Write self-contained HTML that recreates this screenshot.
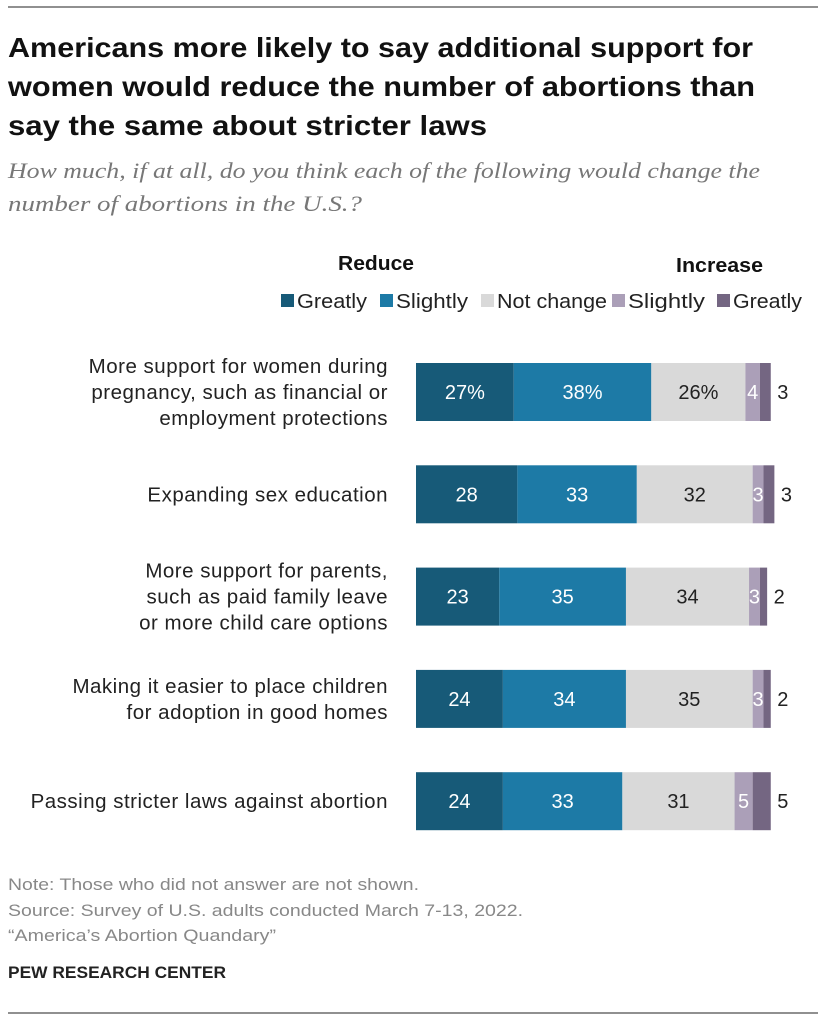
<!DOCTYPE html>
<html><head><meta charset="utf-8"><style>
body{margin:0;background:#fff;width:833px;height:1023px;overflow:hidden}
svg{display:block}
</style></head><body>
<svg width="833" height="1023" font-family="Liberation Sans, sans-serif">
<line x1="8" y1="7" x2="818" y2="7" stroke="#222" stroke-width="1"/>
<g font-size="28" font-weight="bold" fill="#111" lengthAdjust="spacingAndGlyphs">
<text x="8" y="57" textLength="745" lengthAdjust="spacingAndGlyphs">Americans more likely to say additional support for</text>
<text x="8" y="96" textLength="747" lengthAdjust="spacingAndGlyphs">women would reduce the number of abortions than</text>
<text x="8" y="135" textLength="479" lengthAdjust="spacingAndGlyphs">say the same about stricter laws</text>
</g>
<g font-family="Liberation Serif, serif" font-style="italic" font-size="22.5" fill="#777">
<text x="8" y="178" textLength="752" lengthAdjust="spacingAndGlyphs">How much, if at all, do you think each of the following would change the</text>
<text x="8" y="211" textLength="354" lengthAdjust="spacingAndGlyphs">number of abortions in the U.S.?</text>
</g>
<text x="338" y="270" font-size="20" font-weight="bold" fill="#111" textLength="76" lengthAdjust="spacingAndGlyphs">Reduce</text>
<text x="676" y="272" font-size="20" font-weight="bold" fill="#111" textLength="87" lengthAdjust="spacingAndGlyphs">Increase</text>
<g id="legend" font-size="20" fill="#222"></g>
<g id="rows"></g>
<g font-size="16.5" fill="#888">
<text x="8" y="890" textLength="411" lengthAdjust="spacingAndGlyphs">Note: Those who did not answer are not shown.</text>
<text x="8" y="916" textLength="515" lengthAdjust="spacingAndGlyphs">Source: Survey of U.S. adults conducted March 7-13, 2022.</text>
<text x="8" y="941" textLength="268" lengthAdjust="spacingAndGlyphs">“America’s Abortion Quandary”</text>
</g>
<text x="8" y="978" font-size="16.5" font-weight="bold" fill="#222" textLength="218" lengthAdjust="spacingAndGlyphs">PEW RESEARCH CENTER</text>
<line x1="8" y1="1013" x2="818" y2="1013" stroke="#222" stroke-width="1"/>
</svg>
<script>
const categories=[
 ["More support for women during","pregnancy, such as financial or","employment protections"],
 ["Expanding sex education"],
 ["More support for parents,","such as paid family leave","or more child care options"],
 ["Making it easier to place children","for adoption in good homes"],
 ["Passing stricter laws against abortion"]];
const reduceGreatly=[27,28,23,24,24];
const reduceSlightly=[38,33,35,34,33];
const notChange=[26,32,34,35,31];
const increaseSlightly=[4,3,3,3,5];
const increaseGreatly=[3,3,2,2,5];
const seriesNames=["Greatly","Slightly","Not change","Slightly","Greatly"];
const colors=["#175a78","#1d7aa6","#d9d9d9","#ab9fb8","#746682"];
const textColors=["#fff","#fff","#222","#fff",null];
const NS="http://www.w3.org/2000/svg";
const x0=416, scale=3.62, barH=58, y0=363, step=102.3;
const xs=v=>v*scale;
function mk(t,a,p){const e=document.createElementNS(NS,t);for(const k in a)e.setAttribute(k,a[k]);p.appendChild(e);return e;}
const leg=document.getElementById('legend');
const legX=[281,380,481,612,717];
const legW=[70,72,110,77,69];
seriesNames.forEach((n,i)=>{
 const r=mk('rect',{x:legX[i],y:294,width:13,height:13,fill:colors[i]},leg);
 
 
 const t=mk('text',{x:legX[i]+16,y:308,textLength:legW[i],lengthAdjust:'spacingAndGlyphs'},leg);t.textContent=n;
 
 
});
const rows=document.getElementById('rows');
const series=[reduceGreatly,reduceSlightly,notChange,increaseSlightly,increaseGreatly];
categories.forEach((lines,r)=>{
 const y=y0+r*step;
 const g=mk('g',{},rows);
 
 
 const cy=y+barH/2;
 lines.forEach((l,k)=>{
  const t=mk('text',{x:388,y:cy+7+(k-(lines.length-1)/2)*26,'text-anchor':'end','font-size':20.5,'letter-spacing':'0.5',fill:'#222'},g);
  t.textContent=l;
  
  
 });
 let x=x0;
 series.forEach((s,i)=>{
  const v=s[r], w=xs(v);
  const b=mk('rect',{x:x,y:y,width:w,height:barH,fill:colors[i]},g);
  
  
  let lab=String(v)+(r===0&&i<3?'%':'');
  let tx,tc;
  if(i===4){tx=x+w+12;tc='#222';}
  else{tx=x+w/2;tc=textColors[i];}
  const t=mk('text',{x:tx,y:cy+7,'text-anchor':'middle','font-size':20,fill:tc},g);
  t.textContent=lab;
  
  
  x+=w;
 });
});
</script>
</body></html>
